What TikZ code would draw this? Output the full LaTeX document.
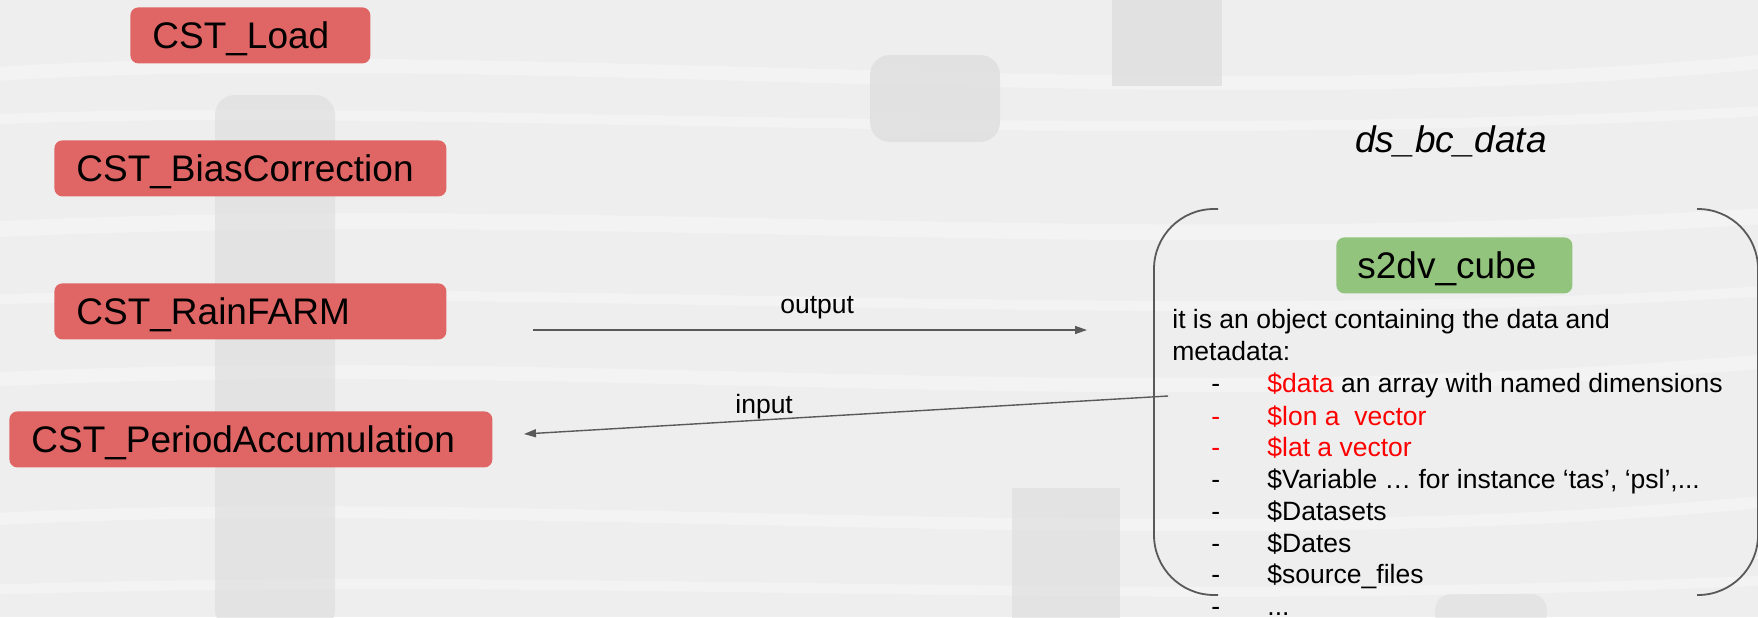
\documentclass[tikz,border=0pt]{standalone}
\usepackage{fontspec}
\setmainfont{Liberation Sans}
\usetikzlibrary{arrows.meta}

\definecolor{cstred}{HTML}{E06666}
\definecolor{cubegreen}{HTML}{93C47D}
\definecolor{linegray}{HTML}{595959}
\definecolor{paper}{HTML}{EEEEEE}
\definecolor{smudge}{HTML}{DCDCDC}
\definecolor{hilite}{HTML}{F8F8F8}
\definecolor{keyred}{HTML}{FF0000}

\newcommand\boxfont{\fontsize{18.5}{22}\selectfont}
\newcommand\bodyfont{\fontsize{13.25}{16}\selectfont}

\tikzset{
  fnbox/.style={rectangle, rounded corners=4pt, fill=cstred, anchor=north west,
    inner xsep=11pt, inner ysep=0pt, minimum height=28pt,
    text height=13.25pt, text depth=0pt, align=left, font=\boxfont},
  cubebox/.style={fnbox, fill=cubegreen},
  plain/.style={anchor=base west, inner sep=0pt, font=\bodyfont},
  conn/.style={draw=linegray, line width=0.7pt, -{Triangle[length=6pt,width=4pt]}},
  bracket/.style={draw=linegray, line width=0.9pt, rounded corners=30pt},
  streak/.style={draw=hilite, line cap=round, opacity=0.55},
  blot/.style={fill=smudge, draw=none}
}

\begin{document}
\begin{tikzpicture}[x=0.5pt,y=-0.5pt]
\clip (0,0) rectangle (1758,617);

% paper background with soft streaks and blurred dark shapes
\fill[paper] (0,0) rectangle (1758,617);
\draw[streak, line width=7pt] (-20,75) .. controls (500,40) and (1200,120) .. (1780,60);
\draw[streak, line width=5pt] (-20,120) .. controls (400,100) and (1100,150) .. (1780,110);
\draw[streak, line width=8pt] (-20,230) .. controls (600,200) and (1100,260) .. (1780,215);
\draw[streak, line width=5pt] (-20,300) .. controls (500,280) and (1200,330) .. (1780,290);
\draw[streak, line width=7pt] (-20,380) .. controls (600,350) and (1100,420) .. (1780,360);
\draw[streak, line width=6pt] (-20,520) .. controls (500,490) and (1200,560) .. (1780,500);
\draw[streak, line width=5pt] (-20,590) .. controls (600,570) and (1100,610) .. (1780,580);
\fill[blot, opacity=0.6, rounded corners=10pt] (215,95) rectangle (335,630);
\fill[blot, opacity=0.7, rounded corners=10pt] (870,55) rectangle (1000,142);
\fill[blot, opacity=0.7] (1112,-5) rectangle (1222,86);
\fill[blot, opacity=0.6] (1012,488) rectangle (1120,630);
\fill[blot, opacity=0.5, rounded corners=8pt] (1435,594) rectangle (1547,630);

% function boxes
\node[fnbox, text width=98pt]    (load)   at (130,7)   {CST\_Load};
\node[fnbox, text width=174pt]   (bias)   at (54,140)  {CST\_BiasCorrection};
\node[fnbox, text width=174pt]   (rain)   at (54,283)  {CST\_RainFARM};
\node[fnbox, text width=219.5pt] (period) at (9,411)   {CST\_PeriodAccumulation};

% data object
\node[anchor=base west, inner sep=0pt, font=\boxfont\itshape] (dsname) at (1355,152) {ds\_bc\_data};
\node[cubebox, text width=97pt, inner xsep=10.5pt] (cube) at (1336,237) {s2dv\_cube};

\coordinate (bl1) at (1218,209); \coordinate (bl2) at (1154,209);
\coordinate (bl3) at (1154,595); \coordinate (bl4) at (1218,595);
\coordinate (br1) at (1697,209); \coordinate (br2) at (1758,209);
\coordinate (br3) at (1758,595); \coordinate (br4) at (1697,595);
\draw[bracket] (bl1) -- (bl2) -- (bl3) -- (bl4);
\draw[bracket] (br1) -- (br2) -- (br3) -- (br4);

\node[plain] (desc1) at (1172,328) {it is an object containing the data and};
\node[plain] (desc2) at (1172,360) {metadata:};

\node[plain] (dash1) at (1211,392) {-};
\node[plain] (item1) at (1267,392) {\textcolor{keyred}{\$data} an array with named dimensions};
\node[plain, text=keyred] (dash2) at (1211,425) {-};
\node[plain, text=keyred] (item2) at (1267,425) {\$lon a\ \ vector};
\node[plain, text=keyred] (dash3) at (1211,456) {-};
\node[plain, text=keyred] (item3) at (1267,456) {\$lat a vector};
\node[plain] (dash4) at (1211,488) {-};
\node[plain] (item4) at (1267,488) {\$Variable … for instance ‘tas’, ‘psl’,...};
\node[plain] (dash5) at (1211,520) {-};
\node[plain] (item5) at (1267,520) {\$Datasets};
\node[plain] (dash6) at (1211,552) {-};
\node[plain] (item6) at (1267,552) {\$Dates};
\node[plain] (dash7) at (1211,583) {-};
\node[plain] (item7) at (1267,583) {\$source\_files};
\node[plain] (dash8) at (1211,615) {-};
\node[plain] (item8) at (1267,615) {...};

% data flow
\coordinate (outS) at (533,330);
\coordinate (outE) at (1087,330);
\coordinate (inS)  at (1168,396);
\coordinate (inE)  at (524,434);
\draw[conn] (outS) -- (outE);
\draw[conn] (inS) -- (inE);
\node[plain] (outlbl) at (780,313) {output};
\node[plain] (inlbl)  at (735,413) {input};
\end{tikzpicture}
\end{document}
